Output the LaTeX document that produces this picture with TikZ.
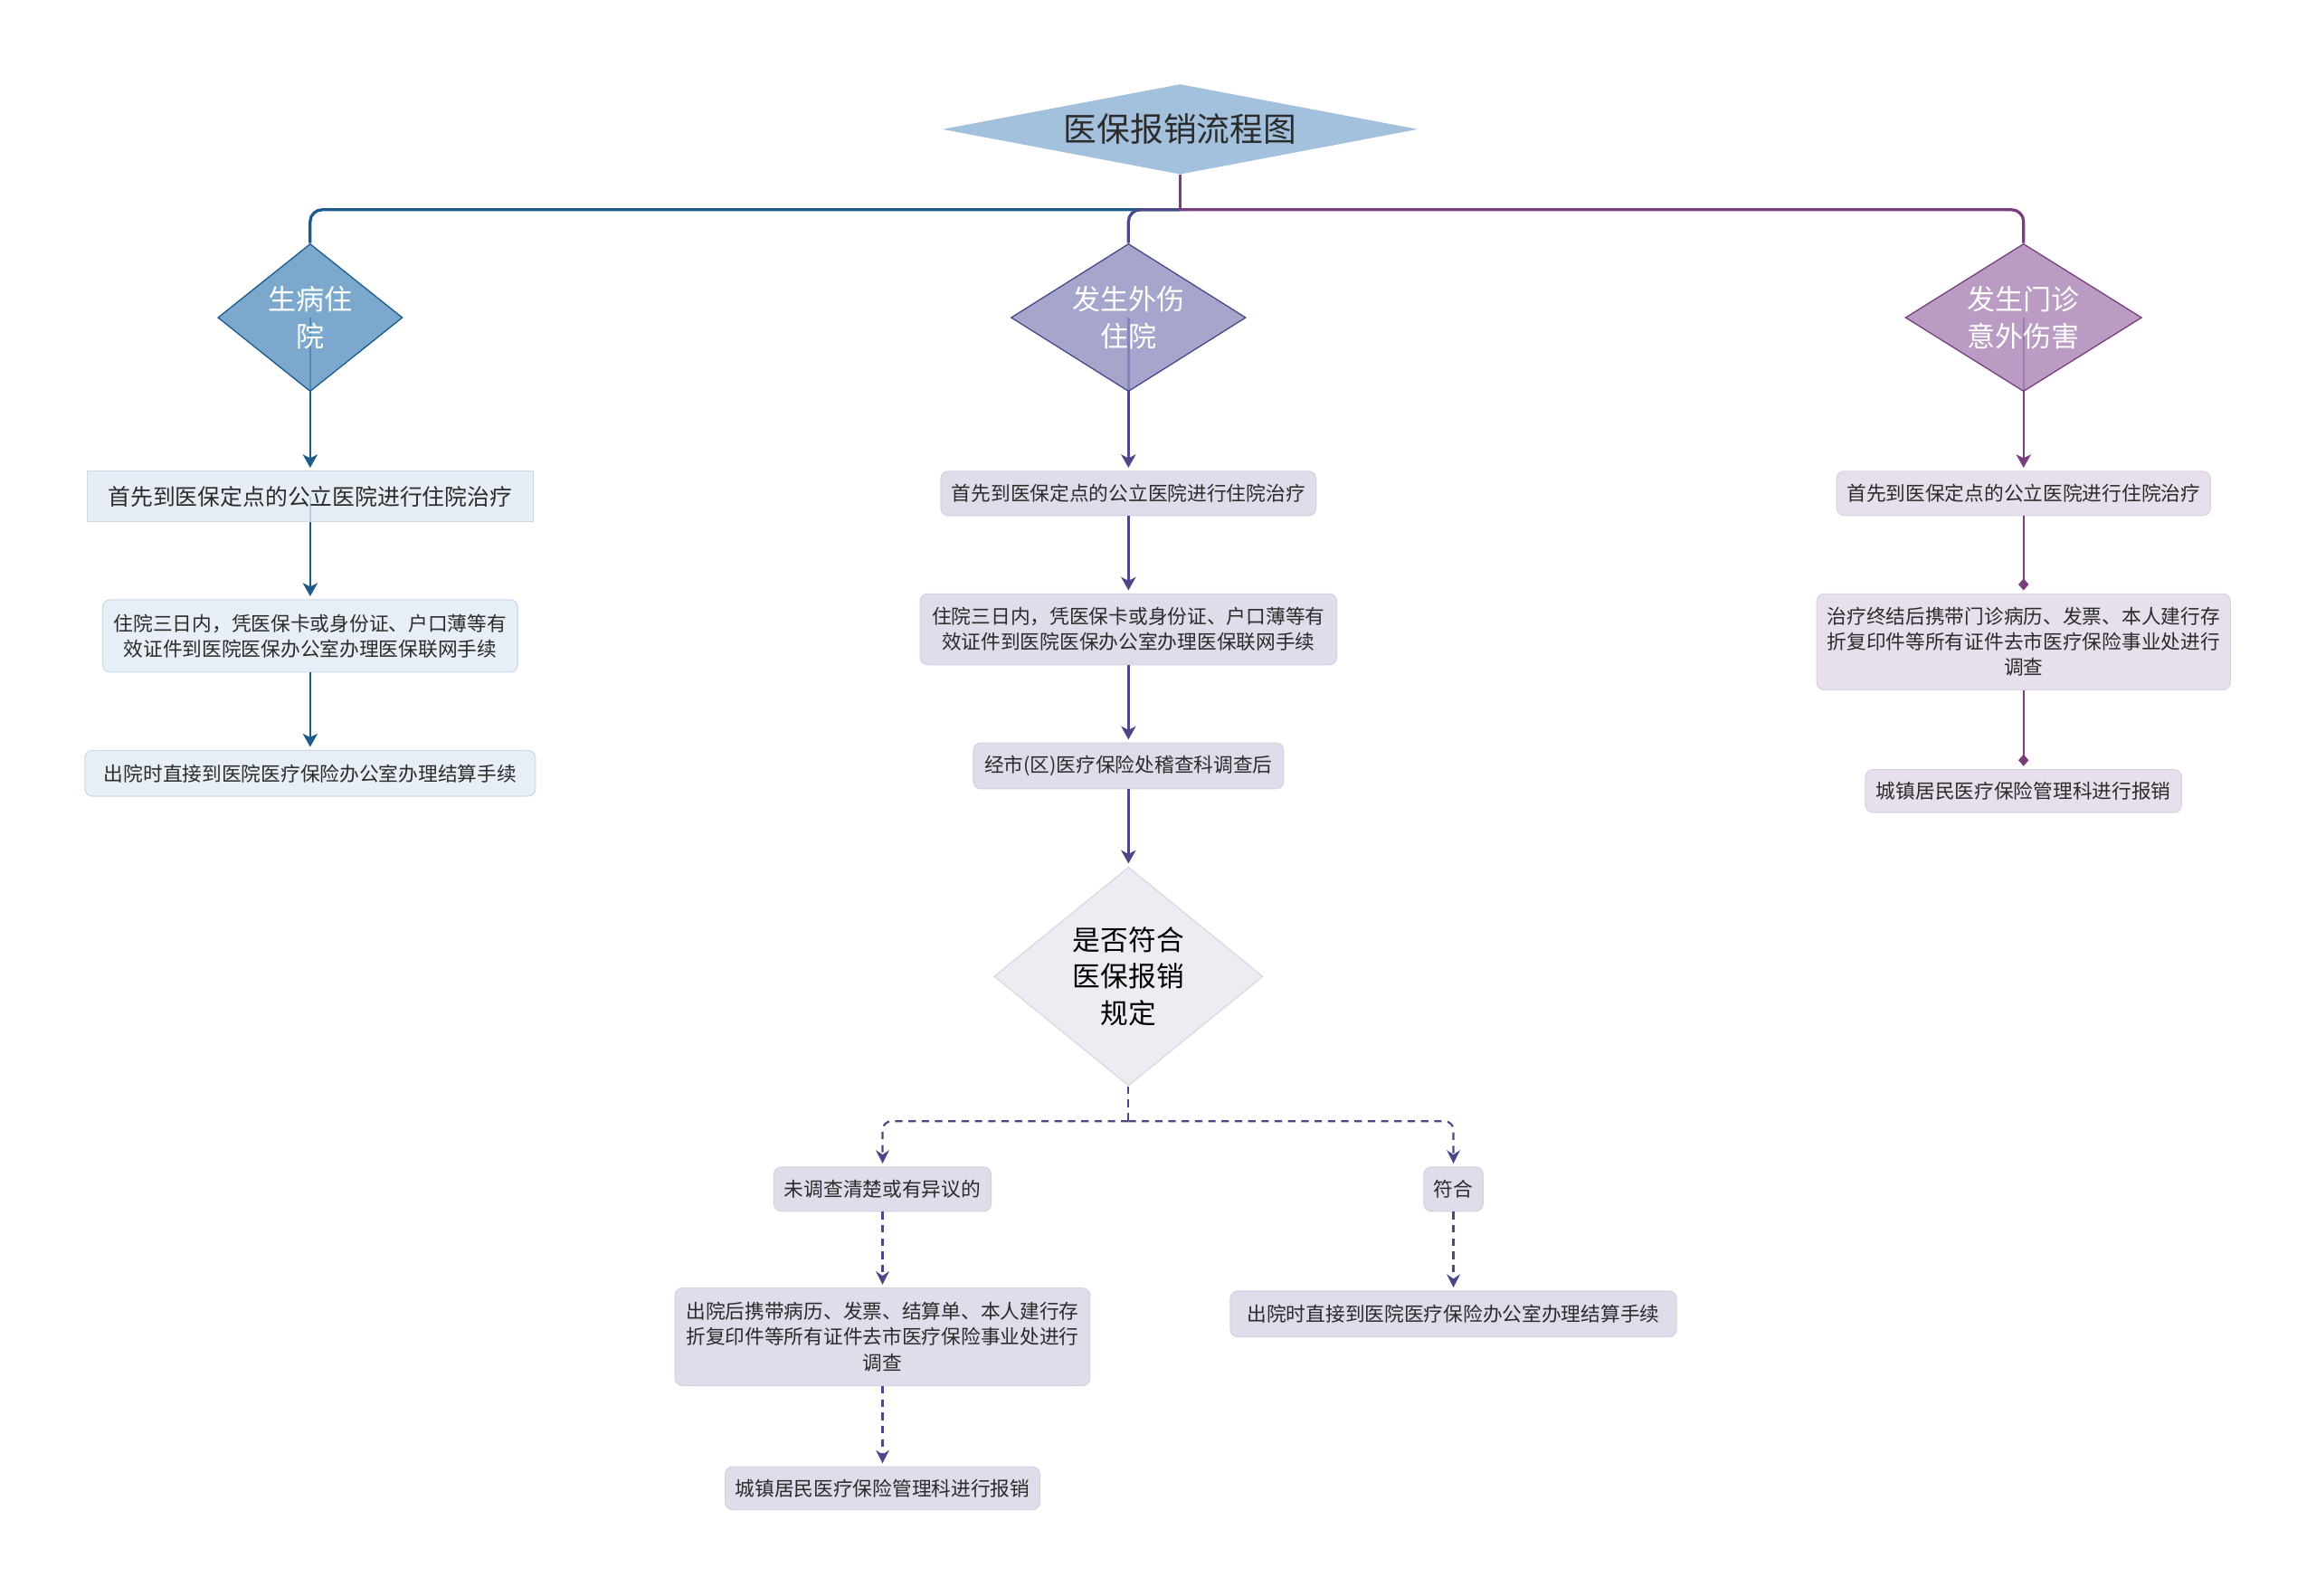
\documentclass[tikz,border=0pt]{standalone}
\usepackage{fontspec}
\setmainfont{Noto Sans CJK SC}
\usetikzlibrary{arrows.meta,shapes.geometric,backgrounds}
\definecolor{cblue}{HTML}{1D5A8C}
\definecolor{cmid}{HTML}{4B4888}
\definecolor{cpurp}{HTML}{7A3E7E}
\definecolor{titlefill}{HTML}{A3C0DC}
\definecolor{dleft}{HTML}{5E95C1}
\definecolor{dmid}{HTML}{9391C1}
\definecolor{dright}{HTML}{AA85B6}
\definecolor{lfill}{HTML}{E7EEF5}
\definecolor{l1fill}{HTML}{E1E9F3}
\definecolor{lborder}{HTML}{CCDAE8}
\definecolor{mfill}{HTML}{DEDDEA}
\definecolor{mborder}{HTML}{D3D2E3}
\definecolor{rfill}{HTML}{E7DFEB}
\definecolor{rborder}{HTML}{DDD2E3}
\definecolor{qfill}{HTML}{ECECF2}
\definecolor{qborder}{HTML}{D9D9E4}
\definecolor{txt}{HTML}{2B2B2B}
\begin{document}
\begin{tikzpicture}[x=1pt,y=-1pt,
  box/.style={rectangle, rounded corners=5pt, inner sep=0pt, align=center, text=txt, line width=0.7pt,
    font=\fontsize{13.3}{17.3}\selectfont},
  lbox/.style={box, fill=lfill, draw=lborder},
  mbox/.style={box, fill=mfill, draw=mborder},
  rbox/.style={box, fill=rfill, draw=rborder},
  dia/.style={diamond, inner sep=0pt, line width=0.8pt, fill opacity=0.82},
  dtext/.style={align=center, text=white, inner sep=0pt, font=\fontsize{19}{25}\selectfont},
  bus/.style={line width=2pt, rounded corners=8pt},
  conn/.style={line width=1.4pt, -{Stealth[length=9pt,width=10pt,inset=2.5pt]}, shorten >=2pt},
  dconn/.style={line width=1.3pt, dash pattern=on 5pt off 4pt, cmid},
  dtip/.style={-{Stealth[length=9pt,width=9pt,inset=3pt]}, shorten >=2pt},
  ktip/.style={line width=1.4pt, -{Diamond[length=8pt,width=7pt]}, shorten >=2pt}
]
\useasboundingbox (0,0) rectangle (1568,1080);

% root
\node[diamond, inner sep=0pt, fill=titlefill, minimum width=322pt, minimum height=61pt] (root) at (799,87.5) {};
\node[inner sep=0pt, text=txt, font=\fontsize{22.5}{26}\selectfont] (roottxt) at (root.center) {医保报销流程图};

% branch diamonds
\node[dia, fill=dleft, draw=cblue, minimum width=125pt, minimum height=100pt] (sick) at (210,215) {};
\node[dtext] (sicktxt) at (sick.center) {生病住\\院};
\node[dia, fill=dmid, draw=cmid, minimum width=159pt, minimum height=100pt] (injury) at (764,215) {};
\node[dtext] (injurytxt) at (injury.center) {发生外伤\\住院};
\node[dia, fill=dright, draw=cpurp, minimum width=160pt, minimum height=100pt] (outpat) at (1370,215) {};
\node[dtext] (outpattxt) at (outpat.center) {发生门诊\\意外伤害};

% left column
\node[lbox, rounded corners=0pt, fill=l1fill, fill opacity=0.8, text opacity=1, minimum width=302pt, minimum height=34pt,
  font=\fontsize{15.2}{18}\selectfont] (l1) at (210,336) {首先到医保定点的公立医院进行住院治疗};
\node[lbox, minimum width=281pt, minimum height=49pt] (l2) at (210,430.5) {住院三日内，凭医保卡或身份证、户口薄等有\\效证件到医院医保办公室办理医保联网手续};
\node[lbox, minimum width=305pt, minimum height=31pt] (l3) at (210,523.5) {出院时直接到医院医疗保险办公室办理结算手续};

% middle column
\node[mbox, minimum width=254pt, minimum height=30pt] (m1) at (764,334) {首先到医保定点的公立医院进行住院治疗};
\node[mbox, minimum width=282pt, minimum height=48pt] (m2) at (764,426) {住院三日内，凭医保卡或身份证、户口薄等有\\效证件到医院医保办公室办理医保联网手续};
\node[mbox, minimum width=210pt, minimum height=31pt] (m3) at (764,518.5) {经市(区)医疗保险处稽查科调查后};
\node[diamond, inner sep=0pt, fill=qfill, draw=qborder, line width=0.8pt, minimum width=182pt, minimum height=148pt] (m4) at (764,661) {};
\node[align=center, inner sep=0pt, text=black, font=\fontsize{18.8}{25}\selectfont] (m4txt) at (m4.center) {是否符合\\医保报销\\规定};
\node[mbox, minimum width=147pt, minimum height=30pt] (m5) at (597.5,805) {未调查清楚或有异议的};
\node[mbox, minimum width=40pt, minimum height=30pt] (m6) at (984,805) {符合};
\node[mbox, minimum width=281pt, minimum height=66pt] (m7) at (597.5,905) {出院后携带病历、发票、结算单、本人建行存\\折复印件等所有证件去市医疗保险事业处进行\\调查};
\node[mbox, minimum width=213pt, minimum height=29pt] (m8) at (597.5,1007.5) {城镇居民医疗保险管理科进行报销};
\node[mbox, minimum width=302pt, minimum height=31pt] (m9) at (984,889.5) {出院时直接到医院医疗保险办公室办理结算手续};

% right column
\node[rbox, minimum width=253pt, minimum height=30pt] (r1) at (1370,334) {首先到医保定点的公立医院进行住院治疗};
\node[rbox, minimum width=280pt, minimum height=65pt] (r2) at (1370,434.5) {治疗终结后携带门诊病历、发票、本人建行存\\折复印件等所有证件去市医疗保险事业处进行\\调查};
\node[rbox, minimum width=214pt, minimum height=29pt] (r3) at (1370,535.5) {城镇居民医疗保险管理科进行报销};

% bus from root
\coordinate (hub) at (799,142);
\draw[bus, cblue] (hub) -| (sick.north);
\draw[bus, cmid] (hub) -| (injury.north);
\draw[bus, cpurp] (hub) -| (outpat.north);
\draw[line width=2pt, cpurp] (root.south) -- (hub);

\begin{pgfonlayer}{background}
  \draw[conn, cblue] (sick.center) -- (l1.north);
  \draw[conn, cblue] (l1.center) -- (l2.north);
  \draw[conn, cmid] (injury.center) -- (m1.north);
  \draw[conn, cpurp] (outpat.center) -- (r1.north);
\end{pgfonlayer}
\draw[conn, cblue] (l2.south) -- (l3.north);
\draw[conn, cmid] (m1.south) -- (m2.north);
\draw[conn, cmid] (m2.south) -- (m3.north);
\draw[conn, cmid] (m3.south) -- (m4.north);
\draw[ktip, cpurp] (r1.south) -- (r2.north);
\draw[ktip, cpurp] (r2.south) -- (r3.north);

% dashed branch
\coordinate (split) at (764,759);
\draw[dconn] (m4.south) -- (split);
\draw[dconn, dtip, rounded corners=6pt] (split) -| (m5.north);
\draw[dconn, dtip, rounded corners=6pt] (split) -| (m6.north);
\draw[dconn, dtip] (m5.south) -- (m7.north);
\draw[dconn, dtip] (m7.south) -- (m8.north);
\draw[dconn, dtip] (m6.south) -- (m9.north);
\end{tikzpicture}
\end{document}
